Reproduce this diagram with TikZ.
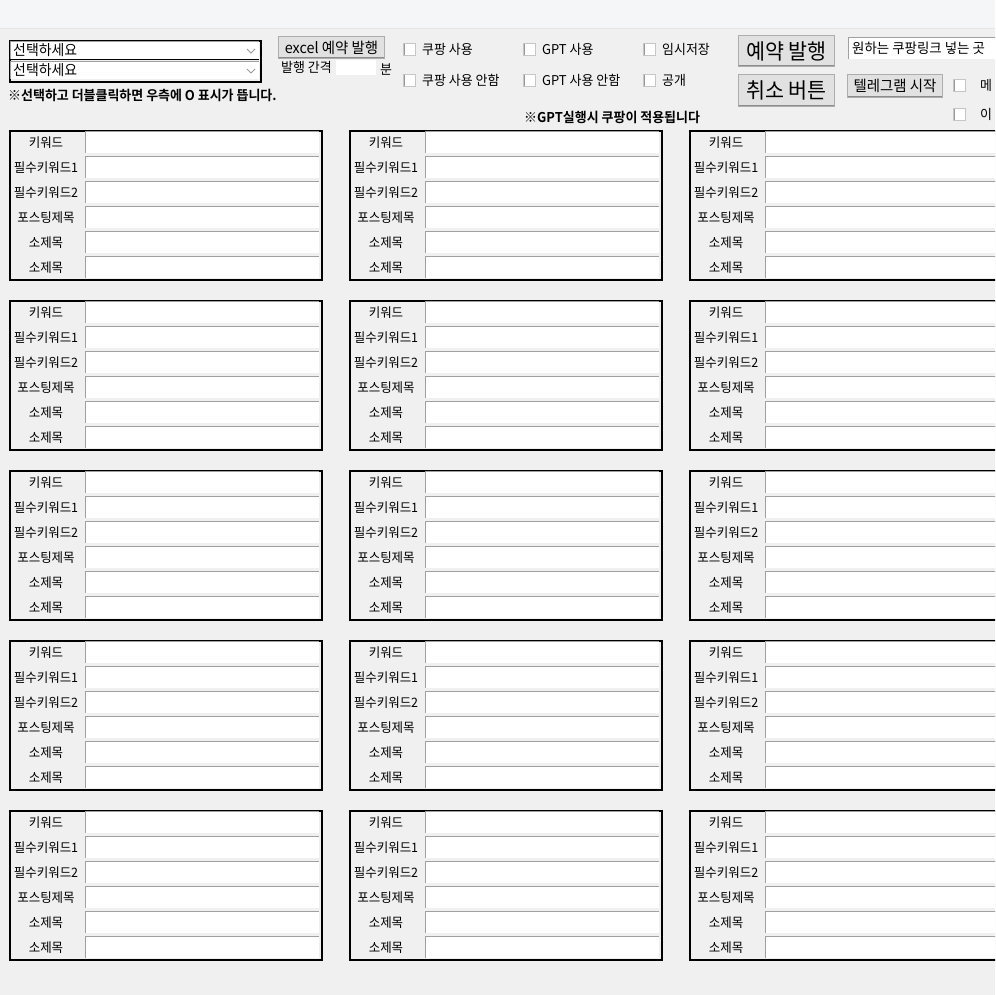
\documentclass[tikz,border=0pt]{standalone}
\usepackage{fontspec}
\setmainfont{Noto Sans CJK KR}[FakeStretch=0.96,BoldFont={Noto Sans CJK KR Bold}]
\usepackage{tikz}
\usetikzlibrary{positioning,calc}
\definecolor{winbg}{HTML}{F0F0F0}
\definecolor{topbg}{HTML}{F5F6F7}
\definecolor{btnface}{HTML}{E1E1E1}
\definecolor{btnedge}{HTML}{ADADAD}
\definecolor{inset}{HTML}{A0A0A0}
\tikzset{
  panel/.style={draw=black,line width=2pt,fill=winbg,anchor=north west,inner sep=0pt,minimum width=312pt,minimum height=149pt},
  field/.style={fill=white,anchor=north west,inner sep=0pt,minimum width=234pt,minimum height=22pt,
    path picture={\draw[inset,line width=2pt] (path picture bounding box.south west) -- (path picture bounding box.north west) -- (path picture bounding box.north east);}},
  combo/.style={field,minimum width=249pt,minimum height=18pt},
  lbl/.style={font=\fontsize{13}{14}\selectfont,inner sep=0pt},
  txt/.style={font=\fontsize{13.5}{15}\selectfont,inner sep=0pt},
  note/.style={font=\bfseries\fontsize{13.5}{15}\selectfont,inner sep=0pt,anchor=west},
  btn/.style={fill=btnface,draw=btnedge,line width=1pt,anchor=north west,inner sep=0pt,
    path picture={\draw[gray!90,line width=2pt] (path picture bounding box.south west) -- (path picture bounding box.south east) -- (path picture bounding box.north east);}},
  chk/.style={fill=white,draw=gray!45,line width=1pt,minimum size=12pt,inner sep=0pt,anchor=north west,
    path picture={\draw[gray!80,line width=2pt] (path picture bounding box.south west) -- (path picture bounding box.north west) -- (path picture bounding box.north east);}},
  chev/.style={draw=gray!80,line width=0.8pt},
}
\begin{document}
\begin{tikzpicture}[x=1pt,y=-1pt]
\useasboundingbox (0,0) rectangle (995,995);
\clip (0,0) rectangle (995,995);
\fill[winbg] (0,0) rectangle (995,995);
\fill[topbg] (0,0) rectangle (995,28);
\draw[gray!20] (0,28) -- (995,28);

\node[draw=black,line width=2pt,anchor=north west,inner sep=0pt,minimum width=251pt,minimum height=41pt] (sel) at (9,40) {};
\node[combo] (sel_a) at (10,41) {};
\node[combo] (sel_b) at (10,61) {};
\draw[line width=1.5pt] (sel_a.south west) -- (sel_a.south east);
\node[txt,anchor=west,font=\fontsize{14.5}{15}\selectfont] (sel_a_t) at ([xshift=3pt]sel_a.west) {선택하세요};
\node[txt,anchor=west,font=\fontsize{14.5}{15}\selectfont] (sel_b_t) at ([xshift=3pt]sel_b.west) {선택하세요};
\draw[chev] (247,49) -- (251,53) -- (255,49);
\draw[chev] (247,69) -- (251,73) -- (255,69);
\node[note] (hint) at (8,95) {※선택하고 더블클릭하면 우측에 O 표시가 뜹니다.};

\node[btn,minimum width=106pt,minimum height=22pt] (excel) at (278,36) {};
\node[txt,font=\fontsize{15}{16}\selectfont] at (excel.center) {excel 예약 발행};
\node[txt,anchor=west] (gap) at (281,67) {발행 간격};
\node[fill=white,anchor=north west,inner sep=0pt,minimum width=40pt,minimum height=15pt] (gap_in) at (336,60) {};
\node[txt,anchor=west] (gap_unit) at (380,70) {분};

\node[chk] (c_cp) at (403,43) {};
\node[chk] (c_cpno) at (403,74) {};
\node[chk] (c_gpt) at (523,43) {};
\node[chk] (c_gptno) at (523,74) {};
\node[chk] (c_tmp) at (643,43) {};
\node[chk] (c_pub) at (643,74) {};
\node[txt,right=6pt of c_cp] {쿠팡 사용};
\node[txt,right=6pt of c_cpno] {쿠팡 사용 안함};
\node[txt,right=6pt of c_gpt] {GPT 사용};
\node[txt,right=6pt of c_gptno] {GPT 사용 안함};
\node[txt,right=6pt of c_tmp] {임시저장};
\node[txt,right=6pt of c_pub] {공개};
\node[note] (gpt_hint) at (524,117) {※GPT실행시 쿠팡이 적용됩니다};

\node[btn,minimum width=96pt,minimum height=31pt] (post) at (738,35) {};
\node[txt,font=\fontsize{21.5}{22}\selectfont] at (post.center) {예약 발행};
\node[btn,minimum width=96pt,minimum height=32pt] (cancel) at (738,74) {};
\node[txt,font=\fontsize{21.5}{22}\selectfont] at (cancel.center) {취소 버튼};

\node[field,minimum width=160pt] (link) at (848,37) {};
\node[txt,anchor=west,font=\fontsize{14}{15}\selectfont] at ([xshift=4pt]link.west) {원하는 쿠팡링크 넣는 곳};
\node[btn,minimum width=95pt,minimum height=23pt] (tg) at (847,74) {};
\node[txt,font=\fontsize{15}{16}\selectfont] at (tg.center) {텔레그램 시작};
\node[chk] (c_m) at (953,79) {};
\node[chk] (c_i) at (953,108) {};
\node[txt,right=14pt of c_m] {메};
\node[txt,right=14pt of c_i] {이};

\foreach \c in {0,1,2}{
  \foreach \r in {0,...,4}{
    \begin{scope}[shift={(8+340*\c,129+170*\r)}]
      \node[panel] (p_\c_\r) at (1,1) {};
      \foreach \t [count=\i from 0] in {키워드,필수키워드1,필수키워드2,포스팅제목,소제목,소제목}{
        \node[field] (f_\c_\r_\i) at (77,2+25*\i) {};
        \node[lbl] (l_\c_\r_\i) at (38,14+25*\i) {\t};
      }
    \end{scope}
  }
}
\end{tikzpicture}
\end{document}
